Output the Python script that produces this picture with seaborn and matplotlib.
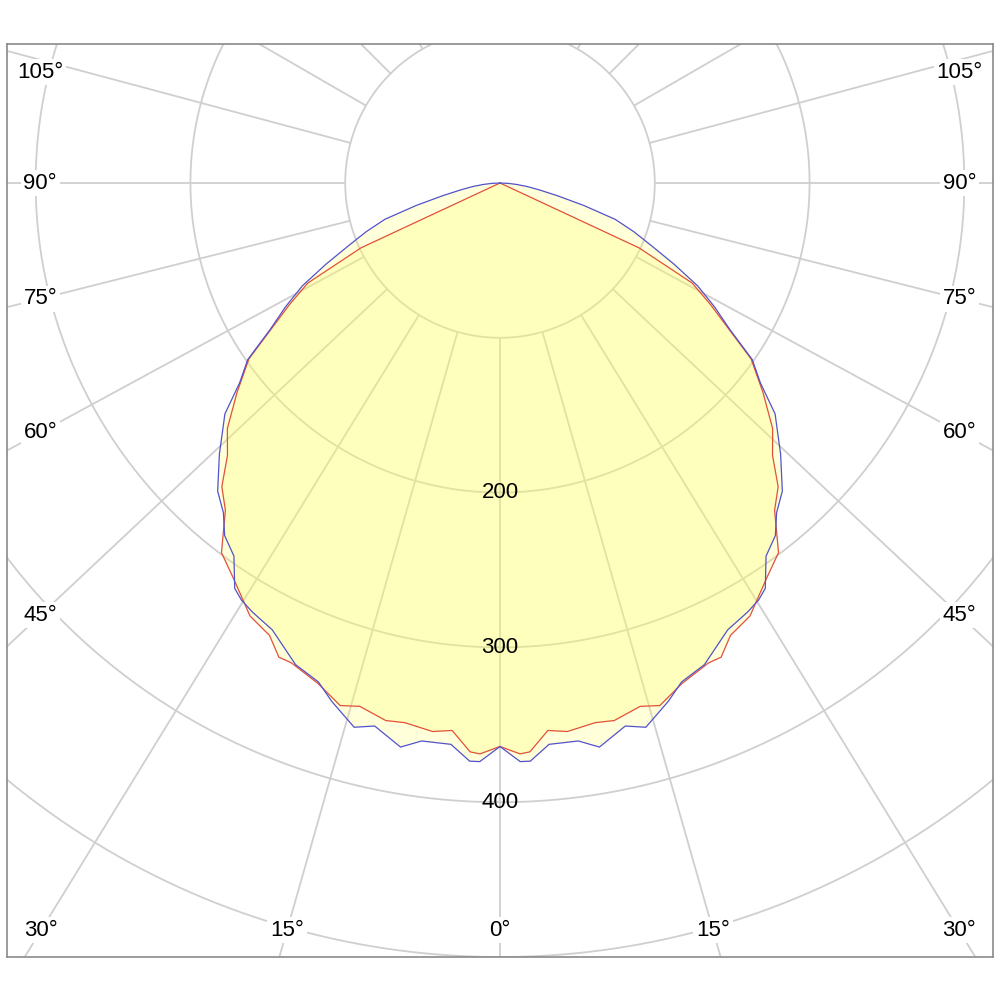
import numpy as np
import pandas as pd
import matplotlib.pyplot as plt
import seaborn as sns

# luminous intensity (cd/klm), gamma angle in degrees
gamma_c0 = [0, 2, 3, 5, 7, 10, 12, 15, 17, 20, 23.5, 25, 27, 30, 31.5, 34, 37,
            40, 42.5, 45, 48, 51.5, 55, 57.5, 60, 62.5, 65, 90]
cd_c0 = [364, 369, 368, 355, 357, 354, 355, 350, 353, 344, 338, 338, 328, 323, 317, 308, 299,
         276, 266, 249, 237, 217, 198, 175, 157, 140, 99, 0]

gamma_c90 = [0, 2, 3, 5, 8, 10, 13, 15, 18, 20, 23, 27, 30, 31.8, 33.2, 35.5, 38, 40,
             42.5, 46, 50, 52.5, 55, 57.5, 60, 62.5, 65, 67.5, 70, 72.5, 75, 77.5,
             80, 82.5, 85, 87.5, 90]
cd_c90 = [364, 374, 374, 364, 364, 370, 360, 364, 352, 343, 338, 324, 320, 317, 313, 296, 289, 278,
          270, 252, 232, 212, 199, 176, 160, 144, 124, 106, 92, 78, 56, 38,
          26, 18, 11, 5, 0]

ring_values = [100, 200, 300, 400, 500]
ring_labels = [200, 300, 400]
spoke_angles = list(range(-180, 181, 15))
angle_labels = [-105, -90, -75, -60, -45, -30, -15, 0, 15, 30, 45, 60, 75, 90, 105]


def to_xy(gamma, cd):
    g = np.radians(np.asarray(gamma, dtype=float))
    r = np.asarray(cd, dtype=float)
    # left half (mirror) then right half
    x = np.concatenate([-(r * np.sin(g))[::-1], (r * np.sin(g))[1:]])
    y = np.concatenate([-(r * np.cos(g))[::-1], -(r * np.cos(g))[1:]])
    return x, y


sns.set_style('white')
plt.rcParams['font.family'] = ['Liberation Sans', 'DejaVu Sans']

fig = plt.figure(figsize=(10, 10), dpi=100)
ax = fig.add_axes([0.007, 0.043, 0.986, 0.913])
ax.set_xlim(-318.5, 318.5)
ax.set_ylim(-500, 89.8)
ax.set_xticks([])
ax.set_yticks([])
for s in ax.spines.values():
    s.set_color('#8a8a8a')
    s.set_linewidth(1.2)
    s.set_zorder(10)

grid_col = '#cfcfcf'
t = np.linspace(0, 2 * np.pi, 721)
for rv in ring_values:
    ax.plot(rv * np.cos(t), rv * np.sin(t), color=grid_col, lw=1.3, zorder=1)

squash = 0.94  # lower spokes look slightly flattened in the reference


def spoke_dir(a):
    ar = np.radians(a)
    dx, dy = np.sin(ar), -np.cos(ar)
    if dy < 0:
        dy *= squash
    n = np.hypot(dx, dy)
    return dx / n, dy / n


for a in spoke_angles:
    dx, dy = spoke_dir(a)
    ax.plot([100 * dx, 2000 * dx], [100 * dy, 2000 * dy], color=grid_col, lw=1.3, zorder=1)

# fills + outlines
fill_col = '#ffff5a'
xb, yb = to_xy(gamma_c90, cd_c90)
xr, yr = to_xy(gamma_c0, cd_c0)
ax.fill(xb, yb, color=fill_col, alpha=0.22, lw=0, zorder=2)
ax.fill(xr, yr, color=fill_col, alpha=0.22, lw=0, zorder=2)

df_b = pd.DataFrame({'x': xb, 'y': yb})
df_r = pd.DataFrame({'x': xr, 'y': yr})
sns.lineplot(data=df_r, x='x', y='y', sort=False, estimator=None, color='#e2503a',
             lw=0.9, ax=ax, zorder=3)
sns.lineplot(data=df_b, x='x', y='y', sort=False, estimator=None, color='#5252cc',
             lw=0.9, ax=ax, zorder=3)
ax.set_xlabel('')
ax.set_ylabel('')

# angle labels sit where each spoke meets an inset rectangle
x_in, y_bot, y_top = 297, 482.6, 85
for a in angle_labels:
    dx, dy = spoke_dir(a)
    cands = []
    if abs(dx) > 1e-9:
        cands.append(x_in / abs(dx))
    if dy < -1e-9:
        cands.append(y_bot / -dy)
    elif dy > 1e-9:
        cands.append(y_top / dy)
    tt = min(cands)
    ty = tt * dy
    if dy > 0:
        ty -= 8  # upper labels sit a little below their spoke
    ax.text(tt * dx, ty, f'{abs(a)}°', fontsize=16, color='black', ha='center', va='center',
            zorder=6, bbox=dict(boxstyle='square,pad=0.12', fc='white', ec='none'))

for rv in ring_labels:
    ax.text(0, -rv, str(rv), fontsize=16, color='black', ha='center', va='center', zorder=6)

fig.savefig('out.png', dpi=100, facecolor='white')
